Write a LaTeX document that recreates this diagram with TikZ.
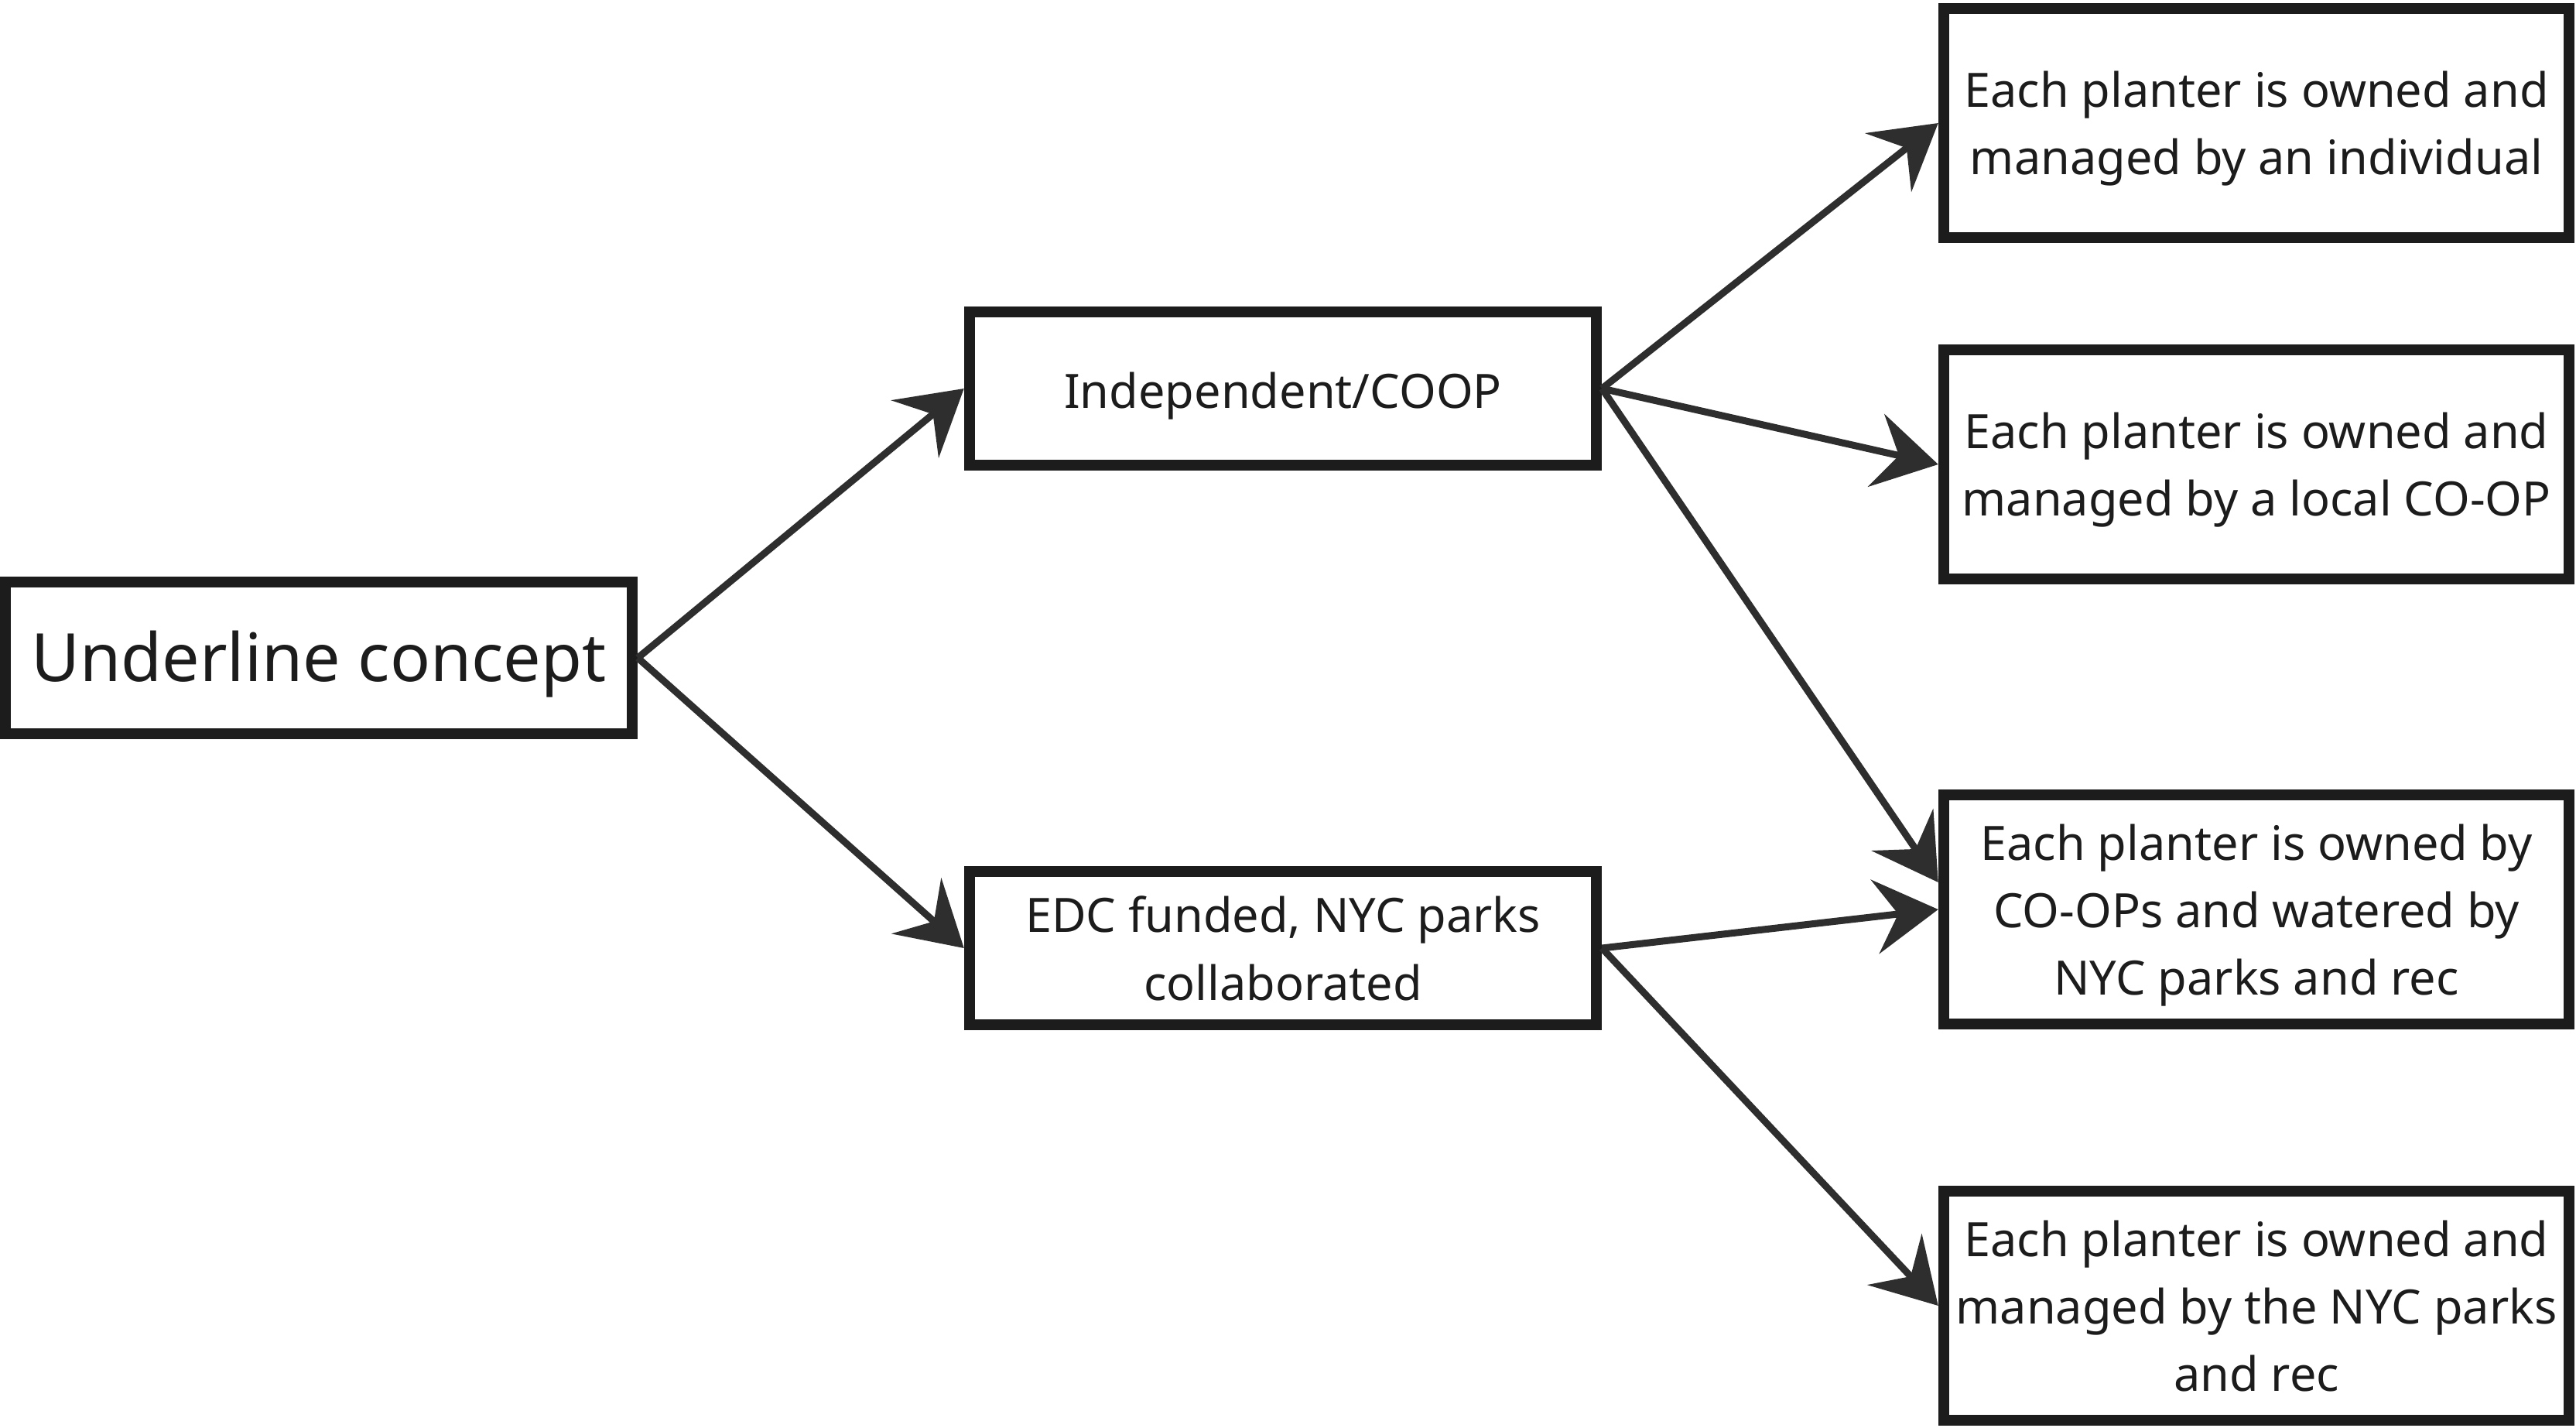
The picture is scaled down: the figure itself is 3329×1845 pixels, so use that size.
\documentclass[tikz,border=0pt]{standalone}
\usepackage{fontspec}
\setmainfont{Noto Sans}
\usetikzlibrary{arrows.meta,positioning}

\definecolor{ink}{HTML}{1C1C1C}
\definecolor{wire}{HTML}{2E2E2E}

\begin{document}
\begin{tikzpicture}[x=0.01cm, y=-0.01cm]
	\tikzstyle{Box}  = [rectangle, draw=ink, line width=0.14cm, fill=white, text=ink, align=center, inner sep=0pt]
	\tikzstyle{Big}  = [Box, minimum width=8.1cm, minimum height=1.96cm, text height=23.5pt, font=\fontsize{24.5}{30}\selectfont]
	\tikzstyle{Mid}  = [Box, minimum width=8.1cm, minimum height=1.97cm, font=\fontsize{17.4}{24.8}\selectfont]
	\tikzstyle{Leaf} = [Box, minimum width=8.08cm, minimum height=2.95cm, font=\fontsize{17.4}{24.8}\selectfont]
	\tikzstyle{Link} = [line width=0.09cm, wire, -{Stealth[length=0.82cm, width=0.96cm, inset=0.3cm]}]

	\useasboundingbox (0,0) rectangle (3329,1845);

	\node (root) at (412, 850) [Big] {Underline concept};
	\node (coop) at (1658, 502) [Mid, text height=18.6pt] {Independent/COOP};
	\node (edc) at (1658, 1225) [Mid, text depth=-5.4pt] {EDC funded, NYC parks\\collaborated};

	\foreach \i/\y/\d/\t in {1/159/-3.0/{Each planter is owned and\\managed by an individual},
			2/600/-3.0/{Each planter is owned and\\managed by a local CO-OP},
			3/1175/-1.6/{Each planter is owned by\\CO-OPs and watered by\\NYC parks and rec},
			4/1687/-7.0/{Each planter is owned and\\managed by the NYC parks\\and rec}}
		\node (own\i) at (2916, \y) [Leaf, text depth=\d pt] {\t};

	\foreach \a/\b in {root/coop, root/edc, coop/own1, coop/own2, edc/own3, edc/own4}
		\draw (\a.east) to (\b.west) [Link];
	\draw (coop.east) to ([yshift=0.35cm]own3.west) [Link];
\end{tikzpicture}
\end{document}
